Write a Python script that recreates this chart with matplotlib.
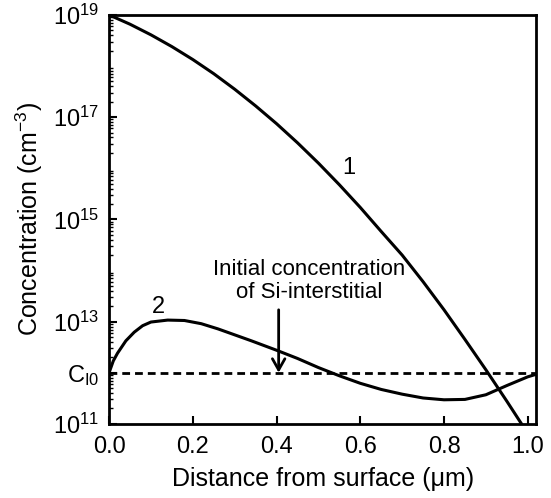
import matplotlib
matplotlib.use("Agg")
import matplotlib.pyplot as plt
from matplotlib.ticker import FixedLocator, LogLocator, NullFormatter

plt.rcParams['font.family'] = ['Liberation Sans', 'DejaVu Sans']
plt.rcParams['mathtext.fontset'] = 'custom'
plt.rcParams['mathtext.rm'] = 'Liberation Sans'
plt.rcParams['mathtext.it'] = 'Liberation Sans'

# Curve 1: dopant profile
x1 = [0.00, 0.05, 0.10, 0.15, 0.20, 0.25, 0.30, 0.35, 0.40, 0.45, 0.50,
      0.55, 0.60, 0.65, 0.70, 0.75, 0.80, 0.85, 0.90, 0.95, 0.985]
c1 = [1.0e19, 6.58e18, 4.08e18, 2.40e18, 1.34e18, 7.08e17, 3.52e17, 1.66e17,
      7.45e16, 3.15e16, 1.26e16, 4.76e15, 1.71e15, 5.79e14, 2.0e14, 6.03e13,
      1.70e13, 4.47e12, 1.14e12, 2.77e11, 1.0e11]

# Curve 2: Si-interstitial profile
x2 = [0.00, 0.01, 0.02, 0.04, 0.06, 0.08, 0.10, 0.14, 0.18, 0.22, 0.26, 0.30,
      0.34, 0.40, 0.45, 0.50, 0.55, 0.60, 0.65, 0.70, 0.75, 0.80, 0.85, 0.90,
      0.95, 1.00, 1.02]
c2 = [1.0e12, 1.7e12, 2.4e12, 4.2e12, 6.2e12, 8.3e12, 9.8e12, 1.07e13, 1.05e13,
      9.1e12, 7.2e12, 5.5e12, 4.2e12, 2.75e12, 1.9e12, 1.26e12, 8.7e11, 6.2e11,
      4.7e11, 3.8e11, 3.2e11, 2.95e11, 3.0e11, 3.7e11, 5.6e11, 8.3e11, 9.3e11]

ci0 = 1e12
xticks = [0.0, 0.2, 0.4, 0.6, 0.8, 1.0]
xticklabels = ['0.0', '0.2', '0.4', '0.6', '0.8', '1.0']
yticks = [1e11, 1e12, 1e13, 1e15, 1e17, 1e19]
yticklabels = ['10$^{11}$', 'C$_{I0}$', '10$^{13}$', '10$^{15}$', '10$^{17}$', '10$^{19}$']

fig = plt.figure(figsize=(5.51, 4.98), dpi=100)
ax = fig.add_axes([0.198, 0.149, 0.775, 0.821])

ax.plot(x1, c1, color='black', lw=2.2, solid_joinstyle='round')
ax.plot(x2, c2, color='black', lw=2.2, solid_joinstyle='round')
ax.axhline(ci0, color='black', lw=2.0, ls=(0, (2.8, 1.8)))

ax.set_yscale('log')
ax.set_xlim(0, 1.02)
ax.set_ylim(1e11, 1e19)

ax.xaxis.set_major_locator(FixedLocator(xticks))
ax.set_xticklabels(xticklabels)
ax.yaxis.set_major_locator(FixedLocator(yticks))
ax.set_yticklabels(yticklabels)
ax.yaxis.set_minor_locator(LogLocator(base=10, subs=range(2, 10), numticks=50))
ax.yaxis.set_minor_formatter(NullFormatter())

ax.tick_params(axis='both', which='major', direction='in', length=6, width=1.5,
               labelsize=17)
ax.tick_params(axis='x', which='major', pad=9)
ax.tick_params(axis='y', which='major', pad=7)
ax.tick_params(axis='y', which='minor', direction='in', length=3, width=1.0)
ax.tick_params(axis='x', which='minor', length=0)
for s in ax.spines.values():
    s.set_linewidth(2.0)

ax.set_xlabel('Distance from surface (\u03bcm)', fontsize=18, labelpad=6)
ax.set_ylabel('Concentration (cm$^{-3}$)', fontsize=18, labelpad=6)

ax.text(0.572, 1.0e16, '1', fontsize=17, ha='center', va='center')
ax.text(0.118, 1.9e13, '2', fontsize=17, ha='center', va='center')
ax.text(0.477, 6.2e13, 'Initial concentration\nof Si-interstitial', fontsize=16,
        ha='center', va='center', linespacing=1.1)
ax.annotate('', xy=(0.405, ci0), xytext=(0.405, 1.7e13),
            arrowprops=dict(arrowstyle='->,head_length=0.8,head_width=0.45',
                            color='black', lw=2.0, shrinkA=0, shrinkB=0))

fig.savefig('out.png', dpi=100)
